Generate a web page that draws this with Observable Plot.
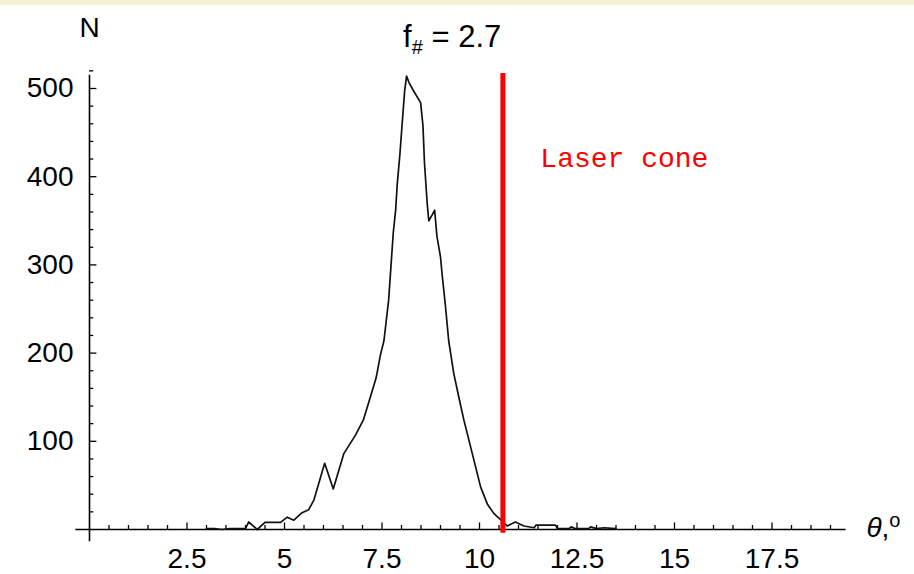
<!DOCTYPE html>
<html>
<head>
<meta charset="utf-8">
<script src="https://cdn.jsdelivr.net/npm/d3@7"></script>
<script src="https://cdn.jsdelivr.net/npm/@observablehq/plot@0.6"></script>
<style>
  html, body { margin: 0; padding: 0; background: #ffffff; }
  #wrap { position: relative; width: 914px; height: 574px; overflow: hidden; }
  #strip { position: absolute; left: 0; top: 0; width: 914px; height: 5px; background: #f6f1d3; }
  svg { display: block; }
</style>
</head>
<body>
<div id="wrap"><div id="chart"></div><div id="strip"></div></div>
<script>
// Angle θ (degrees) and counts N
const theta = [3.0, 3.2, 3.4, 3.6, 3.8, 4.0, 4.08, 4.3, 4.5, 4.9, 5.07, 5.24, 5.45, 5.62, 5.75, 6.03, 6.25, 6.52, 6.82, 7.02, 7.2, 7.35, 7.46, 7.55, 7.67, 7.74, 7.79, 7.85, 7.89, 7.96, 8.02, 8.08, 8.13, 8.19, 8.3, 8.49, 8.55, 8.59, 8.66, 8.7, 8.79, 8.85, 8.91, 9.0, 9.04, 9.13, 9.21, 9.34, 9.47, 9.6, 9.73, 9.9, 10.03, 10.2, 10.37, 10.52, 10.71, 10.92, 11.14, 11.4, 11.45, 11.95, 12.0, 12.3, 12.35, 12.45, 12.8, 12.85, 13.0, 13.2, 13.5];
const counts = [1, 1, 0, 1, 1, 1, 8.5, 0, 8, 8, 14, 10.5, 19, 22.5, 33, 75, 46, 86, 107, 124, 150, 172, 198, 214, 260, 305, 337, 362, 391, 426, 462, 497, 514, 507, 498, 484, 458, 415, 369, 350, 357, 362, 332, 309, 290, 252, 214, 177, 150, 124, 101, 71, 48, 29, 18, 12, 4, 8.5, 4, 2, 5, 5, 1, 1, 3, 1, 1, 3, 1, 2, 1];

const xMinor = [0.5,1,1.5,2,3,3.5,4,4.5,5.5,6,6.5,7,8,8.5,9,9.5,10.5,11,11.5,12,13,13.5,14,14.5,15.5,16,16.5,17,18,18.5,19];
const xMajor = [2.5, 5, 7.5, 10, 12.5, 15, 17.5];
const xLabels = ["2.5", "5", "7.5", "10", "12.5", "15", "17.5"];
const yMinor = [20,40,60,80,120,140,160,180,220,240,260,280,320,340,360,380,420,440,460,480,520];
const yMajor = [100, 200, 300, 400, 500];
const yLabels = ["100", "200", "300", "400", "500"];

const laserCone = [10.6];
const titleText = "f# = 2.7";
const xAxisLabel = "θ,°";
const yAxisLabel = "N";
const coneLabel = "Laser cone";

const curve = theta.map((t, i) => ({theta: t, n: counts[i]}));
const font = "'Liberation Sans', Arial, sans-serif";

const chart = Plot.plot({
  width: 914,
  height: 574,
  marginLeft: 89,
  marginRight: 45,
  marginTop: 70,
  marginBottom: 45,
  style: {background: "white", fontFamily: font, overflow: "visible"},
  x: {domain: [0, 20], axis: null},
  y: {domain: [0, 520.4], axis: null},
  marks: [
    // axes lines
    Plot.ruleY([0], {x1: -0.35, x2: 19.4, stroke: "#000", strokeWidth: 1.6}),
    Plot.ruleX([0], {y1: -14, y2: 515, stroke: "#000", strokeWidth: 1.6}),
    // x ticks
    Plot.ruleX(xMinor, {y1: 0, y2: 4.6, stroke: "#000", strokeWidth: 1.3}),
    Plot.ruleX(xMajor, {y1: 0, y2: 7.4, stroke: "#000", strokeWidth: 1.3}),
    // y ticks
    Plot.ruleY(yMinor, {x1: 0, x2: 0.11, stroke: "#000", strokeWidth: 1.3}),
    Plot.ruleY(yMajor, {x1: 0, x2: 0.19, stroke: "#000", strokeWidth: 1.3}),
    // tick labels
    Plot.text(xMajor, {x: d => d, y: 0, text: (d, i) => xLabels[i], dy: 30, fontSize: 28, fill: "#000", textAnchor: "middle"}),
    Plot.text(yMajor, {x: 0, y: d => d, text: (d, i) => yLabels[i], dx: -16, fontSize: 28, fill: "#000", textAnchor: "end"}),
    // data curve
    Plot.line(curve, {x: "theta", y: "n", stroke: "#111", strokeWidth: 1.7, curve: "linear"}),
    // laser cone
    Plot.ruleX(laserCone, {y1: -4.2, y2: 517, stroke: "#ff0000", strokeWidth: 5}),
    Plot.text([coneLabel], {x: 11.56, y: 420.7, text: d => d, fill: "#ff0000", fontSize: 28, fontFamily: "'Liberation Mono', 'Courier New', monospace", textAnchor: "start"}),
    // titles
    Plot.text([titleText], {x: 9.3, y: 558, text: d => d, fontSize: 31, fill: "#000", textAnchor: "middle", className: "ttl"}),
    Plot.text([yAxisLabel], {x: 0, y: 568, text: d => d, fontSize: 28, fill: "#000", textAnchor: "middle"}),
    Plot.text([xAxisLabel], {x: 19.92, y: 1.5, text: d => d, fontSize: 28, fill: "#000", textAnchor: "start", className: "xlab"})
  ]
});
document.getElementById("chart").appendChild(chart);

// subscript "#" in title, italic θ in axis label
const t = d3.select(chart).select("g.ttl text");
if (!t.empty()) {
  t.text(null);
  t.append("tspan").text("f");
  t.append("tspan").attr("font-size", 20).attr("dy", 7).text("#");
  t.append("tspan").attr("dy", -7).text(" = 2.7");
}
const xl = d3.select(chart).select("g.xlab text");
if (!xl.empty()) {
  xl.text(null);
  xl.append("tspan").attr("font-style", "italic").text("θ");
  xl.append("tspan").text(",");
  xl.append("tspan").attr("font-size", 20).attr("dy", -10).text("o");
}
</script>
</body>
</html>
